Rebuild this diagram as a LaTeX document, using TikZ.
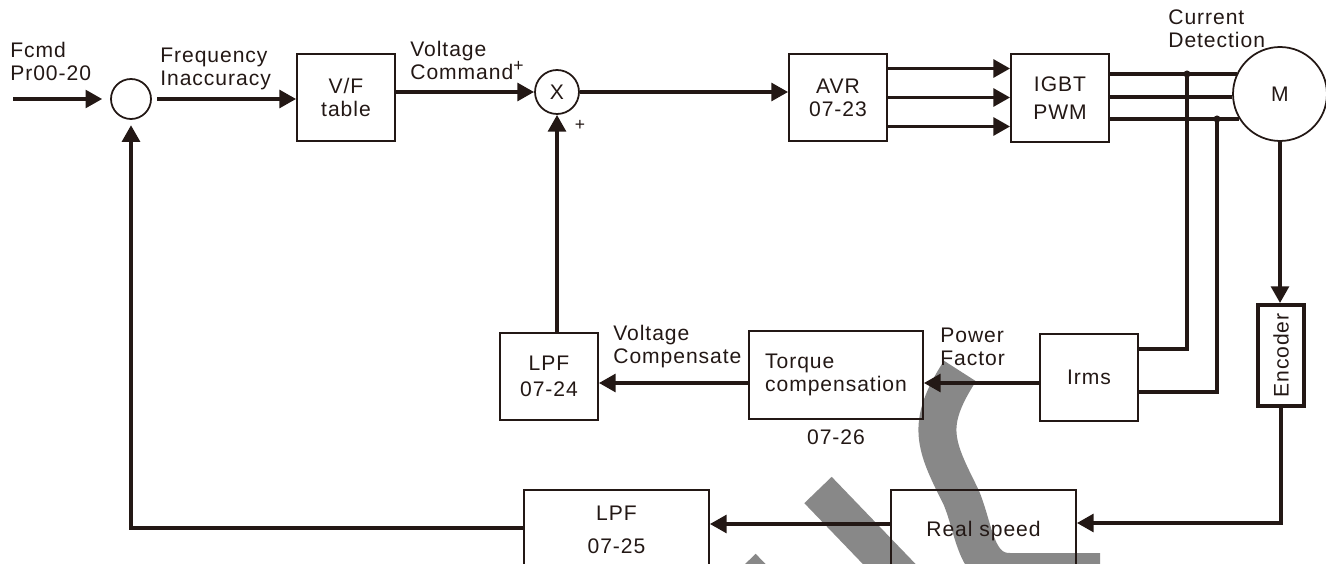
\documentclass[tikz,border=0pt]{standalone}
\usepackage{fontspec}
\setmainfont{Liberation Sans}[LetterSpace=4.5]
\usetikzlibrary{arrows.meta}
\definecolor{ink}{RGB}{35,24,21}
\definecolor{wmgray}{RGB}{136,136,136}

\begin{document}
\begin{tikzpicture}[x=0.02cm, y=-0.02cm,
    font=\fontsize{12}{13.1}\selectfont, color=ink,
    box/.style={draw, line width=1pt, minimum width=1.96cm, minimum height=1.75cm, align=center, inner sep=2pt},
    ring/.style={draw, circle, line width=1pt, inner sep=0pt},
    lbl/.style={inner sep=0pt, align=left, anchor=west},
    wire/.style={line width=2.2pt},
    arr/.style={wire, -{Triangle[length=9.5pt, width=10pt]}},
    wmark/.style={wmgray, line width=0.76cm}]
  \clip (0,0) rectangle (1326,564);
  % Grey strokes behind the diagram
  \draw[wmark] (960,371) .. controls (925,425) and (935,445) .. (961,497) .. controls (975,530) and (975,572) .. (1010,572) -- (1100,572);
  \draw[wmark] (818,490) -- (920,596);
  \draw[wmark] (742,567) -- (800,627);
  % Forward path
  \node[ring, minimum size=0.8cm] (sum) at (131,99) {};
  \node[box] (vf) at (346,97.5) {V/F\\table};
  \node[ring, minimum size=0.88cm] (mult) at (557,92) {X};
  \node[box] (avr) at (838,97.5) {AVR\\07-23};
  \node[box] (igbt) at (1060,98) {IGBT\\[3pt]PWM};
  \node[ring, minimum size=1.88cm] (motor) at (1280,94) {M};
  % Feedback blocks
  \node[box, minimum width=0.92cm, minimum height=2.02cm, line width=2.2pt] (enc) at (1281,355.5) {\rotatebox{90}{Encoder}};
  \node[box] (irms) at (1089,377.5) {Irms};
  \node[box, minimum width=3.48cm, minimum height=1.76cm, align=left] (torque) at (836,375) {Torque\\compensation};
  \node[box] (lpfa) at (549,376.5) {LPF\\[2pt]07-24};
  \node[box, minimum width=3.7cm, minimum height=1.64cm] (rspd) at (983.5,531) {Real speed};
  \node[box, minimum width=3.7cm, minimum height=1.6cm] (lpfb) at (616.5,530) {LPF\\[6pt]07-25};
  % Labels
  \node[lbl] (fcmd) at (10,61) {Fcmd\\Pr00-20};
  \node[lbl] (freq) at (160,68.5) {Frequency\\Inaccuracy};
  \node[lbl] (vcmd) at (410,60) {Voltage\\Command\raisebox{4.5pt}{\fontsize{10}{10}\selectfont +}};
  \node[font=\fontsize{10}{12}\selectfont] (plus) at (580,125) {+};
  \node[lbl] (vcomp) at (613,347) {Voltage\\Compensate};
  \node[lbl] (pfac) at (940,347) {Power\\Factor};
  \node[lbl] (cdet) at (1168,28.5) {Current\\Detection};
  \node (p0726) at (836,437) {07-26};
  % Connections along the top
  \coordinate (fin) at (13,99);
  \draw[arr, shorten >=4.5pt] (fin) -- (sum.west);
  \draw[arr, shorten <=3pt] (sum.east) -- (sum.east -| vf.west);
  \draw[arr] (vf.east |- mult) -- (mult.west);
  \draw[arr] (mult.east) -- (mult.east -| avr.west);
  \draw[arr] ([yshift=0.58cm]avr.east) -- ([yshift=0.58cm]avr.east -| igbt.west);
  \draw[arr] (avr.east) -- (avr.east -| igbt.west);
  \draw[arr] ([yshift=-0.58cm]avr.east) -- ([yshift=-0.58cm]avr.east -| igbt.west);
  \draw[wire] (igbt.east |- motor.155) -- (motor.155);
  \draw[wire] (igbt.east |- motor.184) -- (motor.184);
  \draw[wire] (igbt.east |- motor.212) -- (motor.212);
  % Current detection
  \coordinate (ja) at (1187,74);
  \coordinate (jb) at (1217,119);
  \fill (ja) circle (2pt);
  \fill (jb) circle (2pt);
  \draw[wire] (ja) |- ([yshift=0.57cm]irms.east);
  \draw[wire] (jb) |- ([yshift=-0.29cm]irms.east);
  % Feedback paths
  \draw[arr] (motor.south) -- (motor.south |- enc.north);
  \draw[arr] (enc.south) |- ([yshift=0.16cm]rspd.east);
  \draw[arr] ([yshift=0.14cm]rspd.west) -- ([yshift=0.14cm]rspd.west -| lpfb.east);
  \draw[arr, shorten >=3pt] ([yshift=0.04cm]lpfb.west) -| (sum.south);
  \draw[arr] ([yshift=-0.11cm]irms.west) -- ([yshift=-0.11cm]irms.west -| torque.east);
  \draw[arr] ([yshift=-0.16cm]torque.west) -- ([yshift=-0.16cm]torque.west -| lpfa.east);
  \draw[arr] (lpfa.north -| mult) -- (mult.south);
\end{tikzpicture}
\end{document}
